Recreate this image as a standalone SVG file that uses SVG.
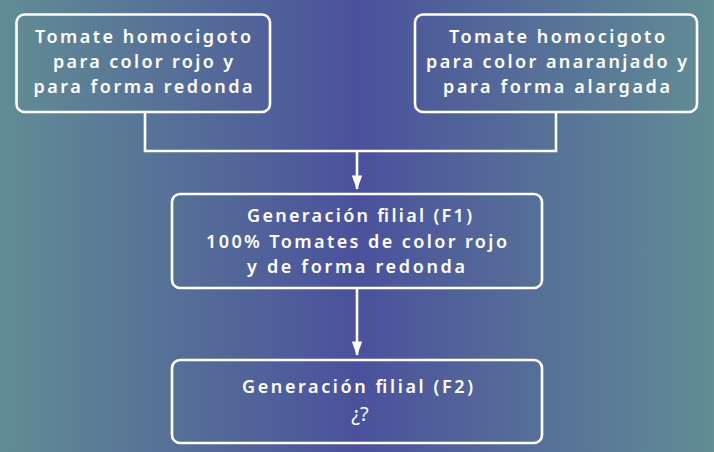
<svg xmlns="http://www.w3.org/2000/svg" width="714" height="452" viewBox="0 0 714 452">
  <defs>
    <linearGradient id="bg" x1="0" y1="0" x2="1" y2="0">
      <stop offset="0" stop-color="#618d94"/>
      <stop offset="0.5" stop-color="#4b519c"/>
      <stop offset="1" stop-color="#618d94"/>
    </linearGradient>
    <marker id="arr" markerWidth="6" markerHeight="4" refX="5.2" refY="2" orient="auto" markerUnits="strokeWidth">
      <path d="M0,0 L5.5,2 L0,4 Z" fill="#ffffff"/>
    </marker>
  </defs>
  <style>
    .box { fill: none; stroke: #ffffff; stroke-width: 2.6; }
    .t { font-family: "Noto Sans", "Liberation Sans", sans-serif; font-weight: 600; font-size: 18px; fill: #ffffff; text-anchor: middle; }
    .n { font-weight: 400; font-size: 20px; }
    .conn { fill: none; stroke: #ffffff; stroke-width: 2.6; }
  </style>
  <rect x="0" y="0" width="714" height="452" fill="url(#bg)"/>

  <g id="connectors">
    <polyline class="conn" points="145,112 145,151 556,151 556,112"/>
    <line class="conn" x1="357" y1="151" x2="357" y2="189" marker-end="url(#arr)"/>
    <line class="conn" x1="357" y1="288" x2="357" y2="355" marker-end="url(#arr)"/>
  </g>

  <g id="node-p1">
    <rect class="box" x="16.5" y="14.5" width="253.5" height="97.5" rx="8"/>
    <text class="t" x="143" y="43" textLength="216" lengthAdjust="spacing">Tomate homocigoto</text>
    <text class="t" x="143" y="68" textLength="180" lengthAdjust="spacing">para color rojo y</text>
    <text class="t" x="143" y="93" textLength="219" lengthAdjust="spacing">para forma redonda</text>
  </g>

  <g id="node-p2">
    <rect class="box" x="415" y="14.5" width="282" height="97.5" rx="8"/>
    <text class="t" x="557" y="43" textLength="216" lengthAdjust="spacing">Tomate homocigoto</text>
    <text class="t" x="556.5" y="68" textLength="261" lengthAdjust="spacing">para color anaranjado y</text>
    <text class="t" x="556.5" y="93" textLength="227" lengthAdjust="spacing">para forma alargada</text>
  </g>

  <g id="node-f1">
    <rect class="box" x="172" y="194" width="370" height="94" rx="8"/>
    <text class="t" x="359.5" y="222" textLength="225" lengthAdjust="spacing">Generación filial (F1)</text>
    <text class="t" x="356.5" y="248" textLength="301" lengthAdjust="spacing">100% Tomates de color rojo</text>
    <text class="t" x="356" y="273" textLength="218" lengthAdjust="spacing">y de forma redonda</text>
  </g>

  <g id="node-f2">
    <rect class="box" x="172" y="360" width="370" height="83" rx="8"/>
    <text class="t" x="357.5" y="393" textLength="231" lengthAdjust="spacing">Generación filial (F2)</text>
    <text class="t n" x="360" y="421">¿?</text>
  </g>
</svg>
